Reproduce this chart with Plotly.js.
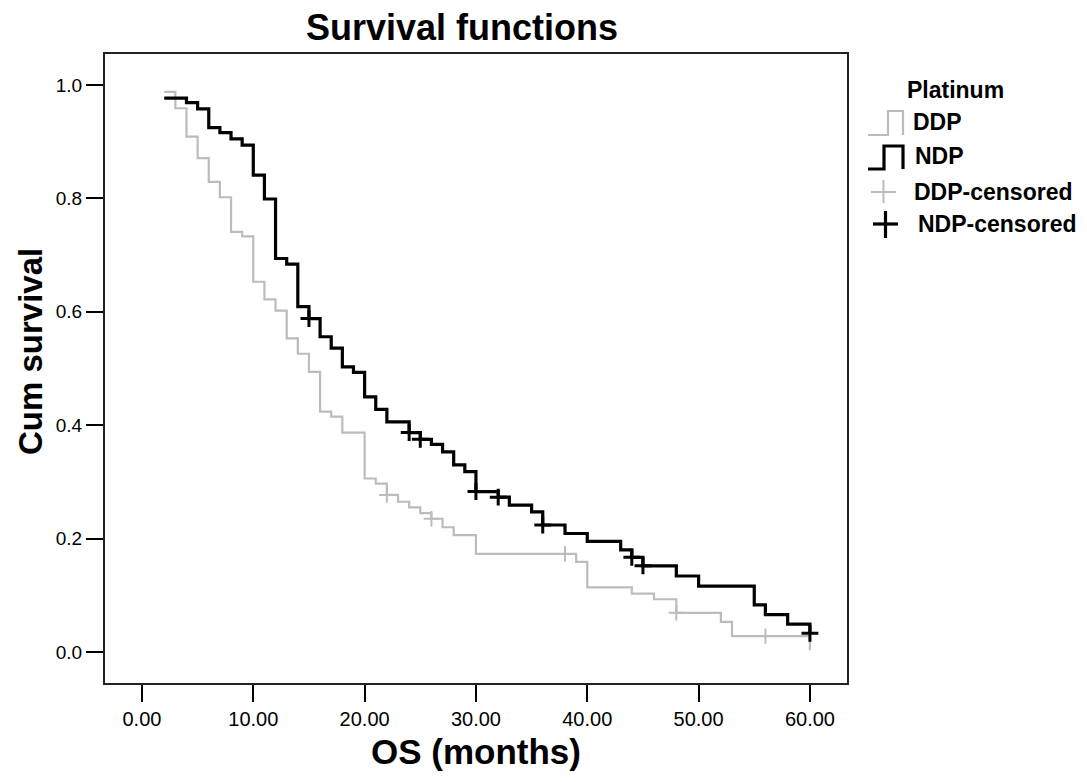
<!DOCTYPE html>
<html>
<head>
<meta charset="utf-8">
<script src="https://cdn.plot.ly/plotly-3.0.1.min.js"></script>
<style>html,body{margin:0;padding:0;background:#fff;}#chart{width:1087px;height:782px;}</style>
</head>
<body>
<div id="chart"></div>
<script>
// DDP group (grey) – Kaplan-Meier step values
var ddpTime = [2, 3, 4, 5, 6, 7, 8, 9, 10, 11, 12, 13, 14, 15, 16, 17, 18, 20, 21, 22, 23, 24, 25, 26, 27, 28, 30, 39, 40, 44, 46, 48, 52, 53, 60];
var ddpSurv = [0.988, 0.959, 0.909, 0.871, 0.829, 0.802, 0.741, 0.733, 0.653, 0.622, 0.602, 0.553, 0.526, 0.494, 0.424, 0.415, 0.387, 0.306, 0.297, 0.277, 0.265, 0.255, 0.245, 0.235, 0.220, 0.206, 0.173, 0.159, 0.114, 0.103, 0.093, 0.069, 0.053, 0.028, 0.003];
var ddpCensTime = [22, 26, 38, 48, 56];
var ddpCensSurv = [0.277, 0.235, 0.173, 0.069, 0.028];

// NDP group (black)
var ndpTime = [2, 4, 5, 6, 7, 8, 9, 10, 11, 12, 13, 14, 15, 16, 17, 18, 19, 20, 21, 22, 24, 25, 26, 27, 28, 29, 30, 32, 33, 35, 36, 38, 40, 43, 44, 45, 48, 50, 55, 56, 58, 60];
var ndpSurv = [0.977, 0.969, 0.958, 0.925, 0.916, 0.905, 0.894, 0.841, 0.799, 0.694, 0.684, 0.609, 0.588, 0.556, 0.536, 0.503, 0.493, 0.450, 0.428, 0.406, 0.387, 0.375, 0.366, 0.353, 0.330, 0.318, 0.283, 0.273, 0.259, 0.247, 0.224, 0.209, 0.195, 0.180, 0.167, 0.152, 0.134, 0.116, 0.083, 0.066, 0.049, 0.033];
var ndpCensTime = [15, 24, 25, 30, 32, 36, 44, 45, 60];
var ndpCensSurv = [0.588, 0.387, 0.375, 0.283, 0.273, 0.224, 0.167, 0.152, 0.033];

var xTicks = [0, 10, 20, 30, 40, 50, 60];
var xTickText = ['0.00', '10.00', '20.00', '30.00', '40.00', '50.00', '60.00'];
var yTicks = [0, 0.2, 0.4, 0.6, 0.8, 1.0];
var yTickText = ['0.0', '0.2', '0.4', '0.6', '0.8', '1.0'];

var chartTitle = 'Survival functions';
var xTitle = 'OS (months)';
var yTitle = 'Cum survival';
var legendTitle = 'Platinum';
var legendNames = ['DDP', 'NDP', 'DDP-censored', 'NDP-censored'];

var GREY = '#bcbcbc';
var BLACK = '#000000';
var FONT = 'Liberation Sans, Arial, sans-serif';

var traces = [
  {x: ddpTime, y: ddpSurv, mode: 'lines', line: {shape: 'hv', color: GREY, width: 2.2}, hoverinfo: 'skip'},
  {x: ndpTime, y: ndpSurv, mode: 'lines', line: {shape: 'hv', color: BLACK, width: 3.2}, hoverinfo: 'skip'},
  {x: ddpCensTime, y: ddpCensSurv, mode: 'markers', marker: {symbol: 'cross-thin', size: 11, line: {color: GREY, width: 2}}, hoverinfo: 'skip'},
  {x: ndpCensTime, y: ndpCensSurv, mode: 'markers', marker: {symbol: 'cross-thin', size: 12, line: {color: BLACK, width: 3}}, hoverinfo: 'skip'}
];

// legend drawn in paper space to the right of the plot
var W = 1087, H = 782, L = 105, R = 240, T = 54, B = 99;
var pw = W - L - R, ph = H - T - B;
function px(x) { return (x - L) / pw; }
function py(y) { return (H - B - y) / ph; }

var shapes = [
  {type: 'path', xref: 'paper', yref: 'paper', line: {color: GREY, width: 2.2},
   path: 'M ' + px(868) + ' ' + py(135) + ' L ' + px(888) + ' ' + py(135) + ' L ' + px(888) + ' ' + py(111) + ' L ' + px(903) + ' ' + py(111) + ' L ' + px(903) + ' ' + py(135)},
  {type: 'path', xref: 'paper', yref: 'paper', line: {color: BLACK, width: 3.2},
   path: 'M ' + px(868) + ' ' + py(169) + ' L ' + px(884) + ' ' + py(169) + ' L ' + px(884) + ' ' + py(146) + ' L ' + px(903) + ' ' + py(146) + ' L ' + px(903) + ' ' + py(169)},
  {type: 'line', xref: 'paper', yref: 'paper', x0: px(871), x1: px(896), y0: py(192), y1: py(192), line: {color: GREY, width: 2}},
  {type: 'line', xref: 'paper', yref: 'paper', x0: px(883.5), x1: px(883.5), y0: py(180), y1: py(203), line: {color: GREY, width: 2}},
  {type: 'line', xref: 'paper', yref: 'paper', x0: px(873), x1: px(898), y0: py(224), y1: py(224), line: {color: BLACK, width: 3.2}},
  {type: 'line', xref: 'paper', yref: 'paper', x0: px(885.5), x1: px(885.5), y0: py(211), y1: py(238), line: {color: BLACK, width: 3.2}}
];

var annotations = [
  {text: legendTitle, x: px(905), y: py(90)},
  {text: legendNames[0], x: px(911), y: py(122)},
  {text: legendNames[1], x: px(913), y: py(156)},
  {text: legendNames[2], x: px(912), y: py(192)},
  {text: legendNames[3], x: px(916), y: py(224)}
].map(function (a) {
  a.xref = 'paper'; a.yref = 'paper'; a.showarrow = false;
  a.xanchor = 'left'; a.yanchor = 'middle';
  a.font = {family: FONT, size: 23, color: '#000'};
  a.text = '<b>' + a.text + '</b>';
  return a;
});
annotations.push({
  text: '<b>' + yTitle + '</b>', xref: 'paper', yref: 'paper', x: px(30), y: py(352),
  xanchor: 'center', yanchor: 'middle', textangle: -90, showarrow: false,
  font: {family: FONT, size: 33, color: '#000'}
});

var layout = {
  width: W, height: H,
  margin: {l: L, r: R, t: T, b: B, pad: 0},
  paper_bgcolor: '#fff', plot_bgcolor: '#fff',
  showlegend: false,
  title: {text: '<b>' + chartTitle + '</b>', font: {family: FONT, size: 36, color: '#000'},
          x: px(462), xref: 'paper', xanchor: 'center', y: 1 - 27 / H, yanchor: 'middle'},
  xaxis: {
    range: [-3.32, 63.33], tickvals: xTicks, ticktext: xTickText,
    ticks: 'outside', ticklen: 17, tickwidth: 2, tickcolor: '#000',
    showline: true, linecolor: '#222', linewidth: 2, mirror: true,
    showgrid: false, zeroline: false,
    tickfont: {family: FONT, size: 20, color: '#000'},
    title: {text: '<b>' + xTitle + '</b>', font: {family: FONT, size: 35, color: '#000'}, standoff: 10}
  },
  yaxis: {
    range: [-0.0547, 1.0547], tickvals: yTicks, ticktext: yTickText,
    ticks: 'outside', ticklen: 17, tickwidth: 2, tickcolor: '#000',
    showline: true, linecolor: '#222', linewidth: 2, mirror: true,
    showgrid: false, zeroline: false,
    tickfont: {family: FONT, size: 19, color: '#000'}
  },
  shapes: shapes,
  annotations: annotations
};

Plotly.newPlot('chart', traces, layout, {displayModeBar: false, staticPlot: true});
</script>
</body>
</html>
